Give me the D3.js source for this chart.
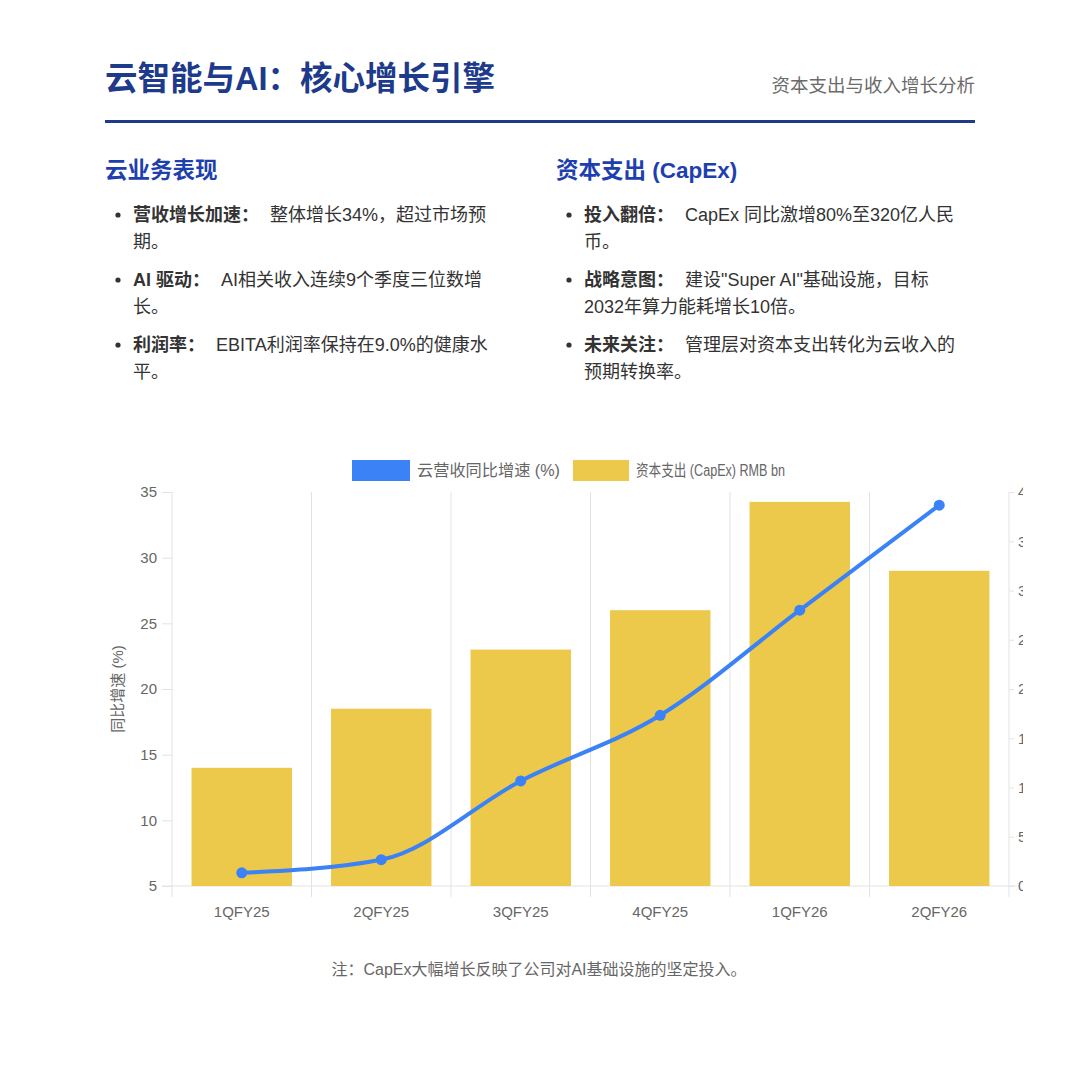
<!DOCTYPE html>
<html><head><meta charset="utf-8">
<script src="https://cdn.jsdelivr.net/npm/d3@7"></script>
<style>
html,body{margin:0;padding:0;background:#fff;}
svg text{font-family:"Liberation Sans","Noto Sans CJK SC",sans-serif;}
</style></head>
<body><div id="root"></div>
<script>
const categories = ["1QFY25","2QFY25","3QFY25","4QFY25","1QFY26","2QFY26"];
const growthValues = [6, 7, 13, 18, 26, 34];
const capexValues = [12, 18, 24, 28, 39, 32];
const leftTicks = [5,10,15,20,25,30,35];
const rightTicks = [0,5,10,15,20,25,30,35,40];
const seriesNames = ["云营收同比增速 (%)", "资本支出 (CapEx) RMB bn"];
const titleText = "云智能与AI：核心增长引擎";
const subtitleText = "资本支出与收入增长分析";
const leftHeading = "云业务表现";
const rightHeading = "资本支出 (CapEx)";
const leftBullets = [
  {label:"营收增长加速：", lines:["整体增长34%，超过市场预","期。"]},
  {label:"AI 驱动：", lines:["AI相关收入连续9个季度三位数增","长。"]},
  {label:"利润率：", lines:["EBITA利润率保持在9.0%的健康水","平。"]}
];
const rightBullets = [
  {label:"投入翻倍：", lines:["CapEx 同比激增80%至320亿人民","币。"]},
  {label:"战略意图：", lines:["建设\"Super AI\"基础设施，目标","2032年算力能耗增长10倍。"]},
  {label:"未来关注：", lines:["管理层对资本支出转化为云收入的","预期转换率。"]}
];
const yAxisTitle = "同比增速 (%)";
const noteText = "注：CapEx大幅增长反映了公司对AI基础设施的坚定投入。";

const W=1080,H=1091;
const svg=d3.select("#root").append("svg").attr("width",W).attr("height",H);
svg.append("rect").attr("width",W).attr("height",H).attr("fill","#fff");

// header
svg.append("text").attr("x",105).attr("y",90).attr("font-size",32.5).attr("font-weight","bold")
  .attr("fill","#1e3a8a").text(titleText);
svg.append("text").attr("x",975).attr("y",92).attr("text-anchor","end").attr("font-size",18.5)
  .attr("fill","#6b6b6b").text(subtitleText);
svg.append("rect").attr("x",105).attr("y",120).attr("width",870).attr("height",3).attr("fill","#1e3a8a");

function column(x0, heading, bullets){
  svg.append("text").attr("x",x0).attr("y",178).attr("font-size",22.5).attr("font-weight","bold")
    .attr("fill","#1e40af").text(heading);
  const baselines=[221,286,351];
  bullets.forEach((b,i)=>{
    const y=baselines[i];
    svg.append("circle").attr("cx",x0+13).attr("cy",y-6).attr("r",2.6).attr("fill","#333");
    const t=svg.append("text").attr("x",x0+28).attr("y",y).attr("font-size",18).attr("fill","#333");
    t.append("tspan").attr("font-weight","bold").text(b.label);
    t.append("tspan").attr("dx",11).text(b.lines[0]);
    svg.append("text").attr("x",x0+28).attr("y",y+27).attr("font-size",18).attr("fill","#333").text(b.lines[1]);
  });
}
column(105,leftHeading,leftBullets);
column(556,rightHeading,rightBullets);

// chart
const L=172,R=1009,T=492,B=886;
const x=d3.scaleBand().domain(categories).range([L,R]).paddingInner(0).paddingOuter(0);
const yL=d3.scaleLinear().domain([5,35]).range([B,T]);
const yR=d3.scaleLinear().domain([0,40]).range([B,T]);
const grid="#e3e3e3";

const chart=svg.append("g");
const bounds=categories.map(c=>x(c));
chart.selectAll("line.vg").data(bounds).join("line")
  .attr("x1",d=>d).attr("x2",d=>d).attr("y1",T).attr("y2",B+11).attr("stroke",grid).attr("stroke-width",1);
chart.append("line").attr("x1",L-10).attr("x2",R+8).attr("y1",B).attr("y2",B).attr("stroke",grid);
chart.append("line").attr("x1",R).attr("x2",R).attr("y1",T).attr("y2",B+11).attr("stroke",grid);

// left axis
const axL=d3.axisLeft(yL).tickValues(leftTicks).tickSize(10).tickPadding(5);
const gL=chart.append("g").attr("transform",`translate(${L},0)`).call(axL);
gL.select(".domain").remove();
gL.selectAll(".tick line").attr("stroke",grid);
gL.selectAll(".tick text").attr("font-size",15).attr("fill","#666").attr("font-family",null);

// right axis (clipped at canvas edge)
svg.append("clipPath").attr("id","clipR").append("rect").attr("x",R).attr("y",0).attr("width",1023-R).attr("height",H);
const axR=d3.axisRight(yR).tickValues(rightTicks).tickSize(5).tickPadding(4);
const gR=chart.append("g").attr("clip-path","url(#clipR)").append("g").attr("transform",`translate(${R},0)`).call(axR);
gR.select(".domain").remove();
gR.selectAll(".tick line").attr("stroke",grid);
gR.selectAll(".tick text").attr("font-size",15).attr("fill","#666").attr("font-family",null);

// bottom axis labels
const axB=d3.axisBottom(x).tickSize(0).tickPadding(20);
const gB=chart.append("g").attr("transform",`translate(0,${B})`).call(axB);
gB.select(".domain").remove();
gB.selectAll(".tick text").attr("font-size",15).attr("fill","#666").attr("font-family",null);

// bars
const bw=x.bandwidth()*0.72;
chart.selectAll("rect.bar").data(capexValues).join("rect")
  .attr("x",(d,i)=>x(categories[i])+(x.bandwidth()-bw)/2).attr("width",bw)
  .attr("y",d=>yR(d)).attr("height",d=>B-yR(d)).attr("fill","#ECC94B");

// line
const line=d3.line().x((d,i)=>x(categories[i])+x.bandwidth()/2).y(d=>yL(d)).curve(d3.curveMonotoneX);
chart.append("path").datum(growthValues).attr("d",line).attr("fill","none").attr("stroke","#3B82F6").attr("stroke-width",4);
chart.selectAll("circle.pt").data(growthValues).join("circle")
  .attr("cx",(d,i)=>x(categories[i])+x.bandwidth()/2).attr("cy",d=>yL(d)).attr("r",5.5).attr("fill","#3B82F6");

// y title
svg.append("text").attr("transform","translate(123,689) rotate(-90)").attr("text-anchor","middle")
  .attr("font-size",15).attr("fill","#666").text(yAxisTitle);

// legend
const lg=svg.append("g");
lg.append("rect").attr("x",352).attr("y",460).attr("width",58).attr("height",21).attr("fill","#3B82F6");
lg.append("text").attr("x",417).attr("y",476).attr("font-size",16).attr("fill","#666")
  .attr("textLength",143).attr("lengthAdjust","spacingAndGlyphs").text(seriesNames[0]);
lg.append("rect").attr("x",573).attr("y",460).attr("width",56).attr("height",21).attr("fill","#ECC94B");
lg.append("text").attr("x",636).attr("y",476).attr("font-size",16).attr("fill","#666")
  .attr("textLength",149).attr("lengthAdjust","spacingAndGlyphs").text(seriesNames[1]);

// note
svg.append("text").attr("x",539).attr("y",975).attr("text-anchor","middle").attr("font-size",16)
  .attr("fill","#666").text(noteText);
</script></body></html>
